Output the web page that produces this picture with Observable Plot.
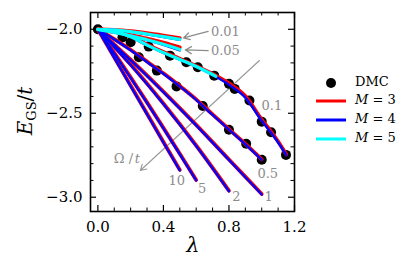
<!DOCTYPE html>
<html><head><meta charset="utf-8">
<script src="https://cdn.jsdelivr.net/npm/d3@7"></script>
<script src="https://cdn.jsdelivr.net/npm/@observablehq/plot@0.6"></script>
<style>
body{margin:0;background:#fff;}
#wrap{position:relative;width:415px;height:276px;font-family:"DejaVu Serif",serif;}
.lg{position:absolute;font-family:"DejaVu Serif",serif;font-size:13px;color:#000;line-height:1;}
</style></head><body><div id="wrap"></div>
<script>
// ---- data ----
const lam_001 = [0, 0.1, 0.2, 0.3, 0.4, 0.5];
const E_001_M3 = [-2.0, -2.003, -2.011, -2.023, -2.037, -2.052];
const E_001_M4 = [-2.0, -2.004, -2.015, -2.030, -2.046, -2.063];
const E_001_M5 = [-2.0, -2.004, -2.014, -2.028, -2.044, -2.060];

const lam_005 = [0, 0.1, 0.2, 0.3, 0.4, 0.5];
const E_005_M3 = [-2.0, -2.016, -2.035, -2.055, -2.079, -2.108];
const E_005_M4 = [-2.0, -2.018, -2.040, -2.064, -2.092, -2.125];
const E_005_M5 = [-2.0, -2.018, -2.039, -2.062, -2.089, -2.120];

const lam_01 = [0, 0.1, 0.2, 0.3, 0.4, 0.5, 0.6, 0.7, 0.8, 0.9, 1.0, 1.05, 1.1, 1.15];
const E_01_M3 = [-2.0, -2.010, -2.042, -2.090, -2.135, -2.175, -2.218, -2.266, -2.322, -2.398, -2.538, -2.600, -2.668, -2.745];
const E_01_M4 = [-2.0, -2.012, -2.046, -2.095, -2.140, -2.181, -2.223, -2.272, -2.330, -2.407, -2.545, -2.607, -2.674, -2.750];
const lam_01_M5 = [0, 0.1, 0.2, 0.3, 0.4, 0.5, 0.6, 0.72];
const E_01_M5 = [-2.0, -2.012, -2.045, -2.094, -2.139, -2.180, -2.222, -2.280];

const lam_05 = [0, 0.1, 0.2, 0.3, 0.4, 0.5, 0.6, 0.7, 0.8, 0.9, 1.0];
const E_05_M3 = [-2.0, -2.058, -2.122, -2.192, -2.262, -2.337, -2.417, -2.507, -2.595, -2.682, -2.774];
const E_05_M4 = [-2.0, -2.060, -2.125, -2.195, -2.265, -2.340, -2.420, -2.510, -2.598, -2.685, -2.777];

const lam_1 = [0, 0.2, 0.4, 0.6, 0.8, 1.0];
const E_1_M3 = [-2.0, -2.181, -2.371, -2.569, -2.775, -2.981];
const E_1_M4 = [-2.0, -2.184, -2.374, -2.572, -2.778, -2.984];

const lam_2 = [0, 0.2, 0.4, 0.6, 0.8];
const E_2_M3 = [-2.0, -2.210, -2.442, -2.692, -2.961];
const E_2_M4 = [-2.0, -2.213, -2.445, -2.695, -2.964];

const lam_5 = [0, 0.1, 0.2, 0.3, 0.4, 0.5, 0.6];
const E_5_M3 = [-2.0, -2.140, -2.286, -2.435, -2.587, -2.741, -2.897];
const E_5_M4 = [-2.0, -2.143, -2.289, -2.438, -2.590, -2.744, -2.900];

const lam_10 = [0, 0.1, 0.2, 0.3, 0.4, 0.5];
const E_10_M3 = [-2.0, -2.167, -2.335, -2.503, -2.671, -2.837];
const E_10_M4 = [-2.0, -2.170, -2.338, -2.506, -2.674, -2.840];

// DMC points
const dmc_lam_01 = [0, 0.15, 0.2, 0.31, 0.44, 0.54, 0.61, 0.71, 0.80, 0.835, 0.925, 1.0, 1.057, 1.148];
const dmc_E_01 = [-2.0, -2.048, -2.077, -2.103, -2.157, -2.196, -2.226, -2.276, -2.325, -2.355, -2.424, -2.550, -2.613, -2.748];
const dmc_lam_05 = [0.25, 0.36, 0.48, 0.64, 0.80, 0.905, 1.0];
const dmc_E_05 = [-2.167, -2.246, -2.340, -2.457, -2.598, -2.682, -2.777];

// tick values
const xMajor = [0, 0.4, 0.8, 1.2];
const xMinor = [0.1, 0.2, 0.3, 0.5, 0.6, 0.7, 0.9, 1.0, 1.1];
const yMajor = [-2.0, -2.5, -3.0];
const yMinor = [-2.1, -2.2, -2.3, -2.4, -2.6, -2.7, -2.8, -2.9];

// annotation labels
const curveLabels = ["0.1", "0.5", "1", "2", "5", "10"];
const curveLabelX = [1.062, 1.037, 1.042, 0.845, 0.636, 0.481];
const curveLabelY = [-2.455, -2.861, -2.996, -2.996, -2.950, -2.900];

// ---- build tables ----
function rows(lams, Es, omega, M) { return lams.map((l, i) => ({lambda: l, E: Es[i], omega, M})); }
const M3 = [].concat(
  rows(lam_001, E_001_M3, "0.01"), rows(lam_005, E_005_M3, "0.05"), rows(lam_01, E_01_M3, "0.1"),
  rows(lam_05, E_05_M3, "0.5"), rows(lam_1, E_1_M3, "1"), rows(lam_2, E_2_M3, "2"),
  rows(lam_5, E_5_M3, "5"), rows(lam_10, E_10_M3, "10"));
const M4 = [].concat(
  rows(lam_001, E_001_M4, "0.01"), rows(lam_005, E_005_M4, "0.05"), rows(lam_01, E_01_M4, "0.1"),
  rows(lam_05, E_05_M4, "0.5"), rows(lam_1, E_1_M4, "1"), rows(lam_2, E_2_M4, "2"),
  rows(lam_5, E_5_M4, "5"), rows(lam_10, E_10_M4, "10"));
const M5 = [].concat(
  rows(lam_001, E_001_M5, "0.01"), rows(lam_005, E_005_M5, "0.05"), rows(lam_01_M5, E_01_M5, "0.1"));
const dmc = [].concat(rows(dmc_lam_01, dmc_E_01, "0.1"), rows(dmc_lam_05, dmc_E_05, "0.5"));
const labels = curveLabels.map((t, i) => ({t, x: curveLabelX[i], y: curveLabelY[i]}));

const W = 415, H = 276, mL = 90, mR = 121, mT = 12, mB = 65;
const iw = W - mL - mR, ih = H - mT - mB;
const gray = "#8c8c8c";

const plot = Plot.plot({
  width: W, height: H,
  marginLeft: mL, marginRight: mR, marginTop: mT, marginBottom: mB,
  style: {fontFamily: "DejaVu Serif, serif", fontSize: "15px", background: "white", color: "black"},
  x: {domain: [-0.045, 1.2]},
  y: {domain: [-3.085, -1.9]},
  marks: [
    Plot.arrow([{x1: 0.986, y1: -2.186, x2: 0.259, y2: -2.841}], {x1: "x1", y1: "y1", x2: "x2", y2: "y2", stroke: "#999", strokeWidth: 1.1, headLength: 9}),
    Plot.dot(dmc, {x: "lambda", y: "E", r: 5, fill: "black"}),
    Plot.line(M3, {x: "lambda", y: "E", z: "omega", stroke: "#ff0000", strokeWidth: 3.8, curve: "monotone-x"}),
    Plot.line(M4, {x: "lambda", y: "E", z: "omega", stroke: "#0000ff", strokeWidth: 2.4, curve: "monotone-x"}),
    Plot.line(M5, {x: "lambda", y: "E", z: "omega", stroke: "#00ffff", strokeWidth: 3.2, curve: "monotone-x"}),
    Plot.arrow([{x1: 0.673, y1: -2.012, x2: 0.523, y2: -2.051}, {x1: 0.673, y1: -2.127, x2: 0.534, y2: -2.123}],
      {x1: "x1", y1: "y1", x2: "x2", y2: "y2", stroke: gray, strokeWidth: 1.3, headLength: 8}),
    Plot.text([{t: "0.01", x: 0.69, y: -2.016}, {t: "0.05", x: 0.69, y: -2.128}], {x: "x", y: "y", text: "t", fill: gray, fontSize: 13, textAnchor: "start"}),
    Plot.text(labels, {x: "x", y: "y", text: "t", fill: gray, fontSize: 13}),
    Plot.text([{t: "Ω /", x: 0.215, y: -2.77}], {x: "x", y: "y", text: "t", fill: gray, fontSize: 13, textAnchor: "end"}),
    Plot.text([{t: "t", x: 0.225, y: -2.77}], {x: "x", y: "y", text: "t", fill: gray, fontSize: 13, textAnchor: "start", fontStyle: "italic"}),
    // inward ticks
    Plot.tickX(xMajor, {x: d => d, insetTop: ih - 6, stroke: "black", strokeWidth: 1.2}),
    Plot.tickX(xMajor, {x: d => d, insetBottom: ih - 6, stroke: "black", strokeWidth: 1.2}),
    Plot.tickX(xMinor, {x: d => d, insetTop: ih - 3.5, stroke: "black", strokeWidth: 1}),
    Plot.tickX(xMinor, {x: d => d, insetBottom: ih - 3.5, stroke: "black", strokeWidth: 1}),
    Plot.tickY(yMajor, {y: d => d, insetRight: iw - 6, stroke: "black", strokeWidth: 1.2}),
    Plot.tickY(yMajor, {y: d => d, insetLeft: iw - 6, stroke: "black", strokeWidth: 1.2}),
    Plot.tickY(yMinor, {y: d => d, insetRight: iw - 3.5, stroke: "black", strokeWidth: 1}),
    Plot.tickY(yMinor, {y: d => d, insetLeft: iw - 3.5, stroke: "black", strokeWidth: 1}),
    Plot.axisX({ticks: xMajor, tickFormat: d3.format(".1f"), tickSize: 0, tickPadding: 10, label: null, fontSize: 15}),
    Plot.axisY({ticks: yMajor, tickFormat: d3.format(".1f"), tickSize: 0, tickPadding: 8, label: null, fontSize: 15}),
    Plot.frame({stroke: "black", strokeWidth: 1.6})
  ]
});
document.getElementById("wrap").appendChild(plot);

// axis titles
const svg = d3.select(plot);
const yl = svg.append("text")
  .attr("transform", "translate(32,111) rotate(-90)")
  .attr("text-anchor", "middle")
  .attr("font-family", "DejaVu Serif, serif")
  .attr("font-size", 20)
  .attr("fill", "black");
yl.append("tspan").attr("font-style", "italic").text("E");
yl.append("tspan").attr("font-size", 13).attr("dy", 4).text("GS");
yl.append("tspan").attr("dy", -4).text("/");
yl.append("tspan").attr("font-style", "italic").text("t");
svg.append("text")
  .attr("x", 193).attr("y", 252)
  .attr("text-anchor", "middle")
  .attr("font-family", "DejaVu Serif, serif")
  .attr("font-size", 21).attr("font-style", "italic")
  .attr("fill", "black").text("λ");

// legend
const wrap = document.getElementById("wrap");
const legendItems = [
  {type: "dot", label: "DMC", y: 83},
  {type: "line", color: "#ff0000", label: "3", y: 101},
  {type: "line", color: "#0000ff", label: "4", y: 120},
  {type: "line", color: "#00ffff", label: "5", y: 139}
];
legendItems.forEach(it => {
  const sw = document.createElementNS("http://www.w3.org/2000/svg", "svg");
  sw.setAttribute("width", 34); sw.setAttribute("height", 12);
  sw.style.position = "absolute"; sw.style.left = "314px"; sw.style.top = (it.y - 6) + "px";
  if (it.type === "dot") {
    sw.innerHTML = '<circle cx="17" cy="6" r="5" fill="black"/>';
  } else {
    sw.innerHTML = `<line x1="2" x2="32" y1="6" y2="6" stroke="${it.color}" stroke-width="3"/>`;
  }
  wrap.appendChild(sw);
  const d = document.createElement("div");
  d.className = "lg";
  d.style.left = "355px"; d.style.top = (it.y - 8) + "px";
  d.innerHTML = it.type === "dot" ? "DMC" : `<i>M</i> = ${it.label}`;
  wrap.appendChild(d);
});
</script>
</body></html>
